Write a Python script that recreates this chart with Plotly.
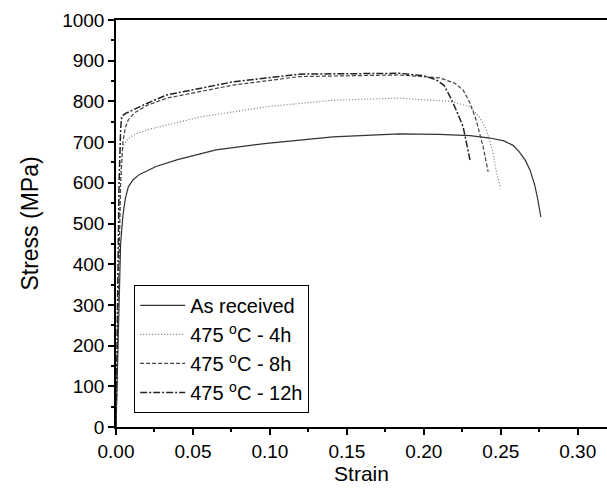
import plotly.graph_objects as go

# Data
strain_ar = [0, 0.0015, 0.003, 0.0045, 0.006, 0.008, 0.011, 0.015, 0.02, 0.026, 0.04, 0.065, 0.098,
             0.141, 0.184, 0.21, 0.23, 0.243, 0.252, 0.258, 0.262, 0.266, 0.269, 0.272, 0.274, 0.276]
stress_ar = [0, 250, 450, 520, 560, 590, 607, 620, 630, 640, 657, 681, 697,
             713, 720, 719, 716, 710, 703, 692, 676, 655, 631, 595, 560, 516]

strain_4h = [0, 0.0015, 0.0025, 0.0035, 0.0045, 0.007, 0.011, 0.02, 0.033, 0.055, 0.098, 0.141,
             0.184, 0.217, 0.23, 0.236, 0.2407, 0.245, 0.2475, 0.25]
stress_4h = [0, 300, 550, 650, 689, 705, 717, 730, 742, 762, 787, 803,
             808, 800, 787, 762, 730, 673, 620, 587]

strain_8h = [0, 0.0015, 0.003, 0.0045, 0.006, 0.008, 0.012, 0.02, 0.033, 0.076, 0.119, 0.184,
             0.21, 0.22, 0.2255, 0.23, 0.234, 0.2385, 0.2418]
stress_8h = [0, 300, 600, 700, 735, 755, 772, 790, 808, 840, 861, 865,
             858, 845, 828, 796, 754, 689, 627]

strain_12h = [0, 0.001, 0.002, 0.003, 0.0037, 0.006, 0.011, 0.02, 0.033, 0.076, 0.119, 0.184,
              0.2, 0.208, 0.213, 0.217, 0.221, 0.2255, 0.23]
stress_12h = [0, 300, 600, 730, 763, 770, 779, 795, 816, 848, 867, 869,
              863, 853, 840, 812, 779, 738, 656]

x_tick_vals = [0, 0.05, 0.1, 0.15, 0.2, 0.25, 0.3]
x_tick_text = ["0.00", "0.05", "0.10", "0.15", "0.20", "0.25", "0.30"]

names = ["As received", "475 <sup>o</sup>C - 4h", "475 <sup>o</sup>C - 8h", "475 <sup>o</sup>C - 12h"]
xs = [strain_ar, strain_4h, strain_8h, strain_12h]
ys = [stress_ar, stress_4h, stress_8h, stress_12h]
dashes = ["solid", "1px,2px", "4px,2px", "7px,2px,2px,2px"]
colors = ["#333333", "#777777", "#444444", "#222222"]
widths = [1.2, 1.2, 1.2, 1.5]

fig = go.Figure()
for i in range(4):
    fig.add_trace(go.Scatter(x=xs[i], y=ys[i], mode="lines", name=names[i],
                             legendgroup=f"g{i}",
                             line=dict(color=colors[i], dash=dashes[i], width=widths[i])))

font_family = "Arial, Liberation Sans, sans-serif"
fig.update_layout(
    width=607, height=496,
    margin=dict(l=116, r=0, t=20, b=69),
    plot_bgcolor="white", paper_bgcolor="white",
    font=dict(family=font_family, size=19, color="black"),
    showlegend=True,
    legend=dict(x=0.037, y=0.349, xanchor="left", yanchor="top",
                bordercolor="black", borderwidth=1, bgcolor="white",
                font=dict(size=20), tracegroupgap=0, itemwidth=45),
)
fig.update_xaxes(
    range=[0, 0.319], tickvals=x_tick_vals, ticktext=x_tick_text,
    ticks="outside", ticklen=6, tickwidth=1.5, tickcolor="black",
    minor=dict(dtick=0.025, tick0=0, ticks="outside", ticklen=3, tickwidth=1.5, tickcolor="black"),
    showline=True, linecolor="black", linewidth=1.5, mirror=True,
    showgrid=False, zeroline=False,
    title=dict(text="Strain", standoff=2, font=dict(size=21)),
)
fig.update_yaxes(
    range=[0, 1000], dtick=100, tick0=0,
    ticks="outside", ticklen=6, tickwidth=1.5, tickcolor="black",
    minor=dict(dtick=50, tick0=0, ticks="outside", ticklen=3, tickwidth=1.5, tickcolor="black"),
    showline=True, linecolor="black", linewidth=1.5, mirror=False,
    showgrid=False, zeroline=False,
    title=dict(text="Stress (MPa)", standoff=17, font=dict(size=23)),
)
fig.write_html("out.html")
